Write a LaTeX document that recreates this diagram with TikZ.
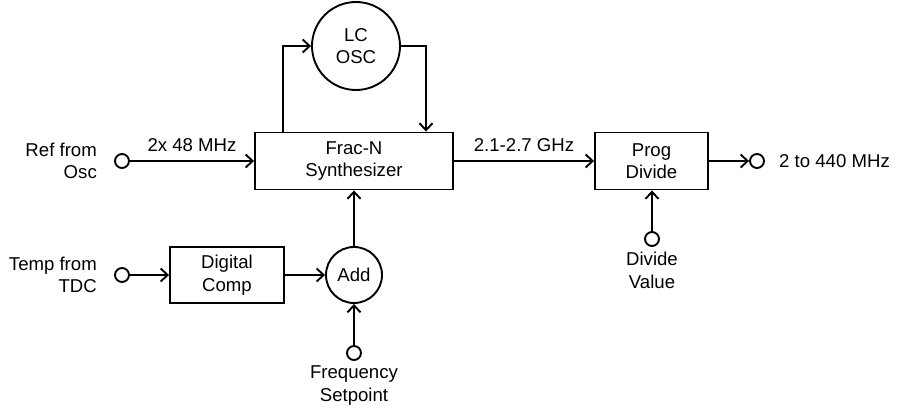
\documentclass[tikz,border=0pt]{standalone}
\usepackage{fontspec}
\setmainfont{Liberation Sans}
\usetikzlibrary{arrows.meta}
\begin{document}
\begin{tikzpicture}[x=1pt,y=-1pt,
  every node/.style={font=\fontsize{18.6}{22.5}\selectfont},
  blk/.style={draw,line width=1.9pt,align=center,inner sep=0pt},
  rnd/.style={draw,circle,line width=1.9pt,align=center,inner sep=0pt},
  term/.style={draw,circle,line width=1.9pt,minimum size=14pt,inner sep=0pt},
  lbl/.style={inner sep=0pt},
  conn/.style={line width=1.9pt,-{Straight Barb[length=7pt,width=13pt,line width=1.9pt]}}]
\useasboundingbox (0,0) rectangle (898,411);
% blocks
\node[blk,minimum width=198pt,minimum height=57pt] (frac) at (354,161) {Frac-N\\Synthesizer};
\node[blk,minimum width=113pt,minimum height=57pt] (prog) at (651.5,161) {Prog\\Divide};
\node[blk,minimum width=114pt,minimum height=56pt] (digi) at (227,275) {Digital\\Comp};
\node[rnd,minimum size=88pt] (osc) at (356,46) {LC\\OSC};
\node[rnd,minimum size=56pt] (add) at (354,275) {Add};
% terminals
\node[term] (ref) at (122,161) {};
\node[term] (temp) at (122,275) {};
\node[term] (freq) at (354,353) {};
\node[term] (div) at (652,239) {};
\node[term] (out) at (757,161) {};
% labels
\node[lbl,align=right,anchor=east] (reflbl) at (97,161) {Ref from\\Osc};
\node[lbl,align=right,anchor=east] (templbl) at (97,275) {Temp from\\TDC};
\node[lbl,align=center,anchor=north] (freqlbl) at (354,366) {Frequency\\Setpoint};
\node[lbl,align=center,anchor=north] (divlbl) at (652,252) {Divide\\Value};
\node[lbl,anchor=west] (outlbl) at (779,161) {2 to 440 MHz};
% connectors
\draw[conn] (ref) -- node[lbl,above=8pt] (reflab) {2x 48 MHz} (frac.west |- ref);
\draw[conn] (frac) -- node[lbl,above=8pt] (ghz) {2.1-2.7 GHz} (prog);
\draw[conn] (prog) -- (out);
\draw[conn] ([xshift=-71pt]frac.north) |- (osc.west);
\draw[conn] (osc.east) -| ([xshift=72pt]frac.north);
\draw[conn] (temp) -- (digi.west |- temp);
\draw[conn] (digi.east) -- (add.west);
\draw[conn] (add) -- (frac);
\draw[conn] (freq) -- (add);
\draw[conn] (div) -- (prog.south -| div);
\end{tikzpicture}
\end{document}
